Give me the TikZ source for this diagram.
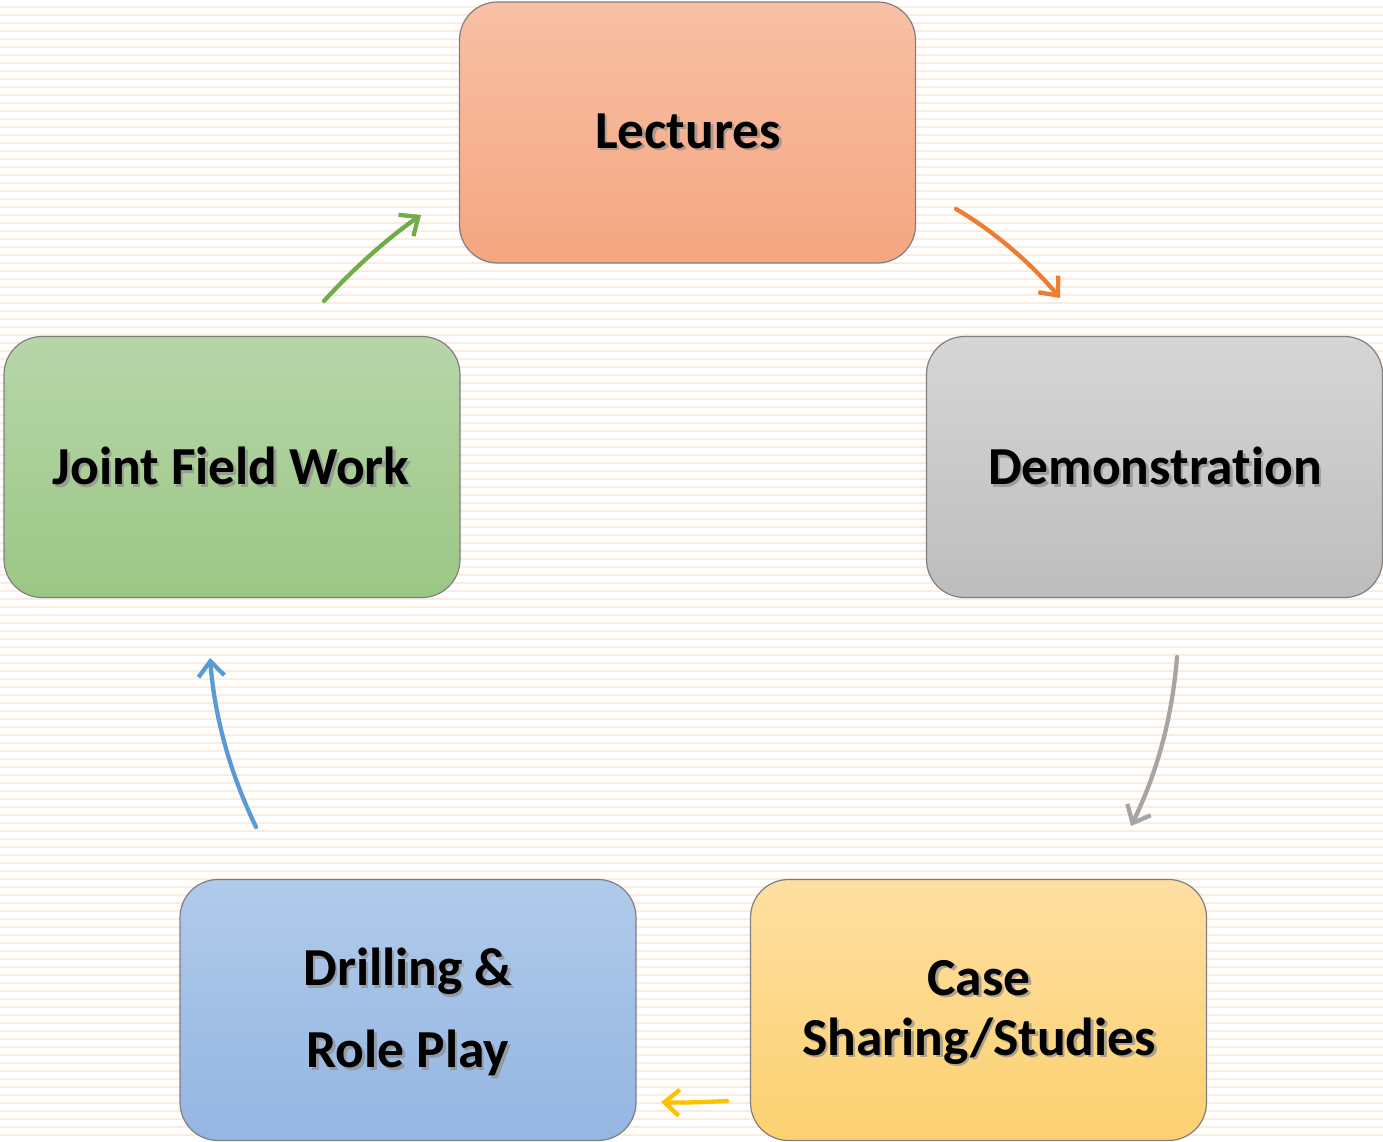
\documentclass[tikz,border=0pt]{standalone}
\usepackage{fontspec}
\setmainfont[RawFeature=-liga]{Carlito}
\usetikzlibrary{arrows.meta,calc}
\definecolor{stripe}{HTML}{FCEBDF}
\definecolor{bordc}{HTML}{7F7F7F}
\definecolor{lecA}{HTML}{F8C0A5}\definecolor{lecB}{HTML}{F4A680}
\definecolor{demA}{HTML}{D6D6D6}\definecolor{demB}{HTML}{BDBDBD}
\definecolor{jfwA}{HTML}{B7D6A8}\definecolor{jfwB}{HTML}{9BC785}
\definecolor{driA}{HTML}{B0CAEA}\definecolor{driB}{HTML}{94B6E2}
\definecolor{casA}{HTML}{FEDFA2}\definecolor{casB}{HTML}{FDD170}
\definecolor{agreen}{HTML}{70AD47}
\definecolor{aorange}{HTML}{ED7D31}
\definecolor{agray}{HTML}{A5A5A5}
\definecolor{ayellow}{HTML}{FFC000}
\definecolor{ablue}{HTML}{5B9BD5}
\tikzset{
  box/.style={draw=bordc, line width=1.2pt, rounded corners=38pt, minimum width=456pt, minimum height=261pt, inner sep=0pt},
  lbl/.style={font=\bfseries\fontsize{53.5}{60}\selectfont, align=center, inner sep=0pt},
  shd/.style={lbl, text=black!45, opacity=0.7},
  conn/.style={line width=4.3pt, line cap=round, -{Straight Barb[length=15pt, width=26pt, line width=4.3pt]}}
}
\newcommand{\shtext}[3]{%
  \node[shd] at ($(#1)+(2.5,2.5)$) {#3};
  \node[lbl] (#2) at (#1) {#3};}
\begin{document}
\begin{tikzpicture}[x=1pt, y=-1pt]
\useasboundingbox (0,0) rectangle (1383,1142);
\foreach \yy in {6,14,...,1142} {\fill[stripe] (0,\yy) rectangle (1383,\yy+2.2);}
% boxes
\node[box, top color=lecA, bottom color=lecB] (lec) at (687.5,132.5) {};
\node[box, top color=demA, bottom color=demB] (dem) at (1154.5,467) {};
\node[box, top color=jfwA, bottom color=jfwB] (jfw) at (232,467) {};
\node[box, top color=driA, bottom color=driB] (dri) at (408,1010) {};
\node[box, top color=casA, bottom color=casB] (cas) at (978.5,1010) {};
% texts
\coordinate (lecP) at (688,131);
\coordinate (demP) at (1155,466);
\coordinate (jfwP) at (231,466);
\coordinate (driP) at (408,1012);
\coordinate (casP) at (979,1012);
\shtext{lecP}{lecT}{Lectures}
\shtext{demP}{demT}{Demonstration}
\shtext{jfwP}{jfwT}{Joint Field Work}
\shtext{driP}{driT}{Drilling \&\\[22pt]Role Play}
\shtext{casP}{casT}{Case\\Sharing/Studies}
% arrow end points
\coordinate (g1) at (324,301); \coordinate (g2) at (421,215);
\coordinate (o1) at (956,209); \coordinate (o2) at (1060,298);
\coordinate (k1) at (1177,657); \coordinate (k2) at (1131,826);
\coordinate (y1) at (727,1101); \coordinate (y2) at (661,1102);
\coordinate (b1) at (256,827); \coordinate (b2) at (210,658);
\draw[conn, draw=agreen] (g1) .. controls (354,268) and (388,238) .. (g2);
\draw[conn, draw=aorange] (o1) .. controls (992,230) and (1030,262) .. (o2);
\draw[conn, draw=agray] (k1) .. controls (1172,720) and (1156,775) .. (k2);
\draw[conn, draw=ayellow] (y1) .. controls (705,1102) and (683,1103) .. (y2);
\draw[conn, draw=ablue] (b1) .. controls (231,775) and (215,720) .. (b2);
\end{tikzpicture}
\end{document}
